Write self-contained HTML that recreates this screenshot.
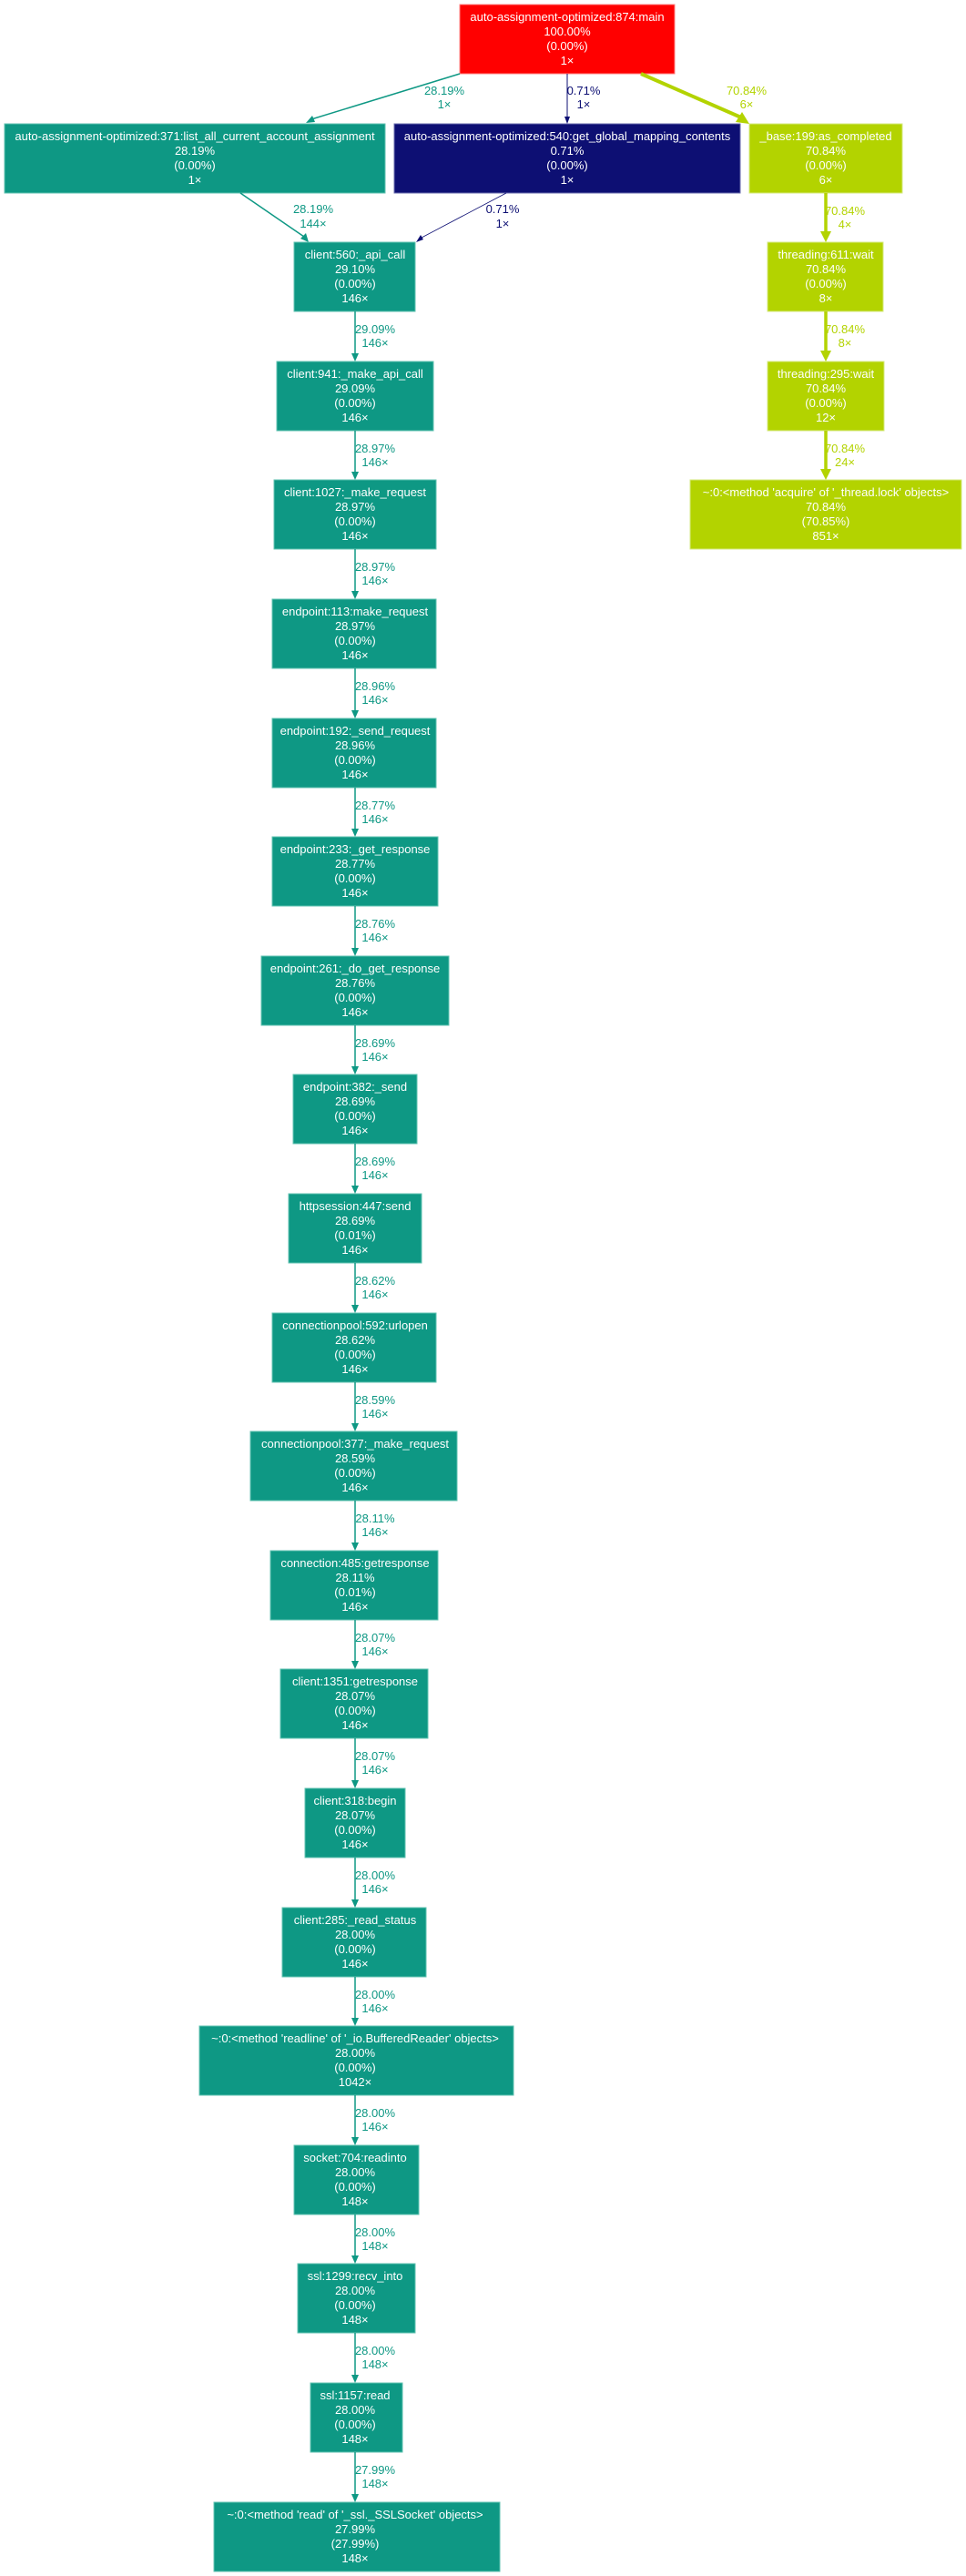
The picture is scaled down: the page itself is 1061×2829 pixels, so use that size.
<!DOCTYPE html>
<html><head><meta charset="utf-8"><style>
html,body{margin:0;padding:0;background:#fff;}
svg{display:block;}
text{font-family:"Liberation Sans",Arial,sans-serif;font-size:13px;text-anchor:middle;}
.n text{fill:#fff;}
.t rect{fill:#0e9884;stroke:#5fc2b0;stroke-width:1;}
.el{fill:#0e9884;}
.ll{fill:#b3d300;}
</style></head><body>
<svg width="1061" height="2829" viewBox="0 0 1061 2829" xmlns="http://www.w3.org/2000/svg">
<!-- top-level -->
<g class="n"><rect x="505" y="5" width="236" height="76" fill="#ff0000" stroke="#ff8080"/>
<text x="623" y="23">auto-assignment-optimized:874:main</text><text x="623" y="39">100.00%</text><text x="623" y="55">(0.00%)</text><text x="623" y="71">1×</text></g>

<g class="n t"><rect x="5" y="136" width="418" height="76"/>
<text x="214" y="154">auto-assignment-optimized:371:list_all_current_account_assignment</text><text x="214" y="170">28.19%</text><text x="214" y="186">(0.00%)</text><text x="214" y="202">1×</text></g>

<g class="n"><rect x="433" y="136" width="380" height="76" fill="#0d0f73" stroke="#6a6cae"/>
<text x="623" y="154">auto-assignment-optimized:540:get_global_mapping_contents</text><text x="623" y="170">0.71%</text><text x="623" y="186">(0.00%)</text><text x="623" y="202">1×</text></g>

<g class="n"><rect x="823" y="136" width="168" height="76" fill="#b3d300" stroke="#d6ea80"/>
<text x="907" y="154">_base:199:as_completed</text><text x="907" y="170">70.84%</text><text x="907" y="186">(0.00%)</text><text x="907" y="202">6×</text></g>

<g class="n"><rect x="843" y="266" width="127" height="76" fill="#b3d300" stroke="#d6ea80"/>
<text x="907" y="284">threading:611:wait</text><text x="907" y="300">70.84%</text><text x="907" y="316">(0.00%)</text><text x="907" y="332">8×</text></g>

<g class="n"><rect x="843" y="397" width="128" height="76" fill="#b3d300" stroke="#d6ea80"/>
<text x="907" y="415">threading:295:wait</text><text x="907" y="431">70.84%</text><text x="907" y="447">(0.00%)</text><text x="907" y="463">12×</text></g>

<g class="n"><rect x="758" y="527" width="298" height="76" fill="#b3d300" stroke="#d6ea80"/>
<text x="907" y="545">~:0:&lt;method 'acquire' of '_thread.lock' objects&gt;</text><text x="907" y="561">70.84%</text><text x="907" y="577">(70.85%)</text><text x="907" y="593">851×</text></g>

<!-- top edges -->
<line x1="505" y1="81" x2="342" y2="131" stroke="#0e9884" stroke-width="1.5"/>
<polygon points="336,135 343,127 346,134" fill="#0e9884"/>
<text class="el" x="488" y="104">28.19%</text><text class="el" x="488" y="119">1×</text>

<line x1="623" y1="81" x2="623" y2="128" stroke="#0d0f73" stroke-width="1"/>
<polygon points="623,136 620,128 626,128" fill="#0d0f73"/>
<text x="641" y="104" fill="#0d0f73">0.71%</text><text x="641" y="119" fill="#0d0f73">1×</text>

<line x1="704" y1="81" x2="814" y2="129" stroke="#b3d300" stroke-width="4"/>
<polygon points="823,136 808,134 815,123" fill="#b3d300"/>
<text class="ll" x="820" y="104">70.84%</text><text class="ll" x="820" y="119">6×</text>

<line x1="264" y1="212" x2="334" y2="260" stroke="#0e9884" stroke-width="1.5"/>
<polygon points="339,266 330,262 336,256" fill="#0e9884"/>
<text class="el" x="344" y="234">28.19%</text><text class="el" x="344" y="250">144×</text>

<line x1="556" y1="212" x2="463" y2="261" stroke="#0d0f73" stroke-width="0.8"/>
<polygon points="457,266 462,258 465,263" fill="#0d0f73"/>
<text x="552" y="234" fill="#0d0f73">0.71%</text><text x="552" y="250" fill="#0d0f73">1×</text>

<!-- lime chain -->
<line x1="907" y1="212" x2="907" y2="256" stroke="#b3d300" stroke-width="3.5"/>
<polygon points="907,266 901,254 913,254" fill="#b3d300"/>
<text class="ll" x="928" y="236">70.84%</text><text class="ll" x="928" y="251">4×</text>
<line x1="907" y1="342" x2="907" y2="387" stroke="#b3d300" stroke-width="3.5"/>
<polygon points="907,397 901,385 913,385" fill="#b3d300"/>
<text class="ll" x="928" y="366">70.84%</text><text class="ll" x="928" y="381">8×</text>
<line x1="907" y1="473" x2="907" y2="517" stroke="#b3d300" stroke-width="3.5"/>
<polygon points="907,527 901,515 913,515" fill="#b3d300"/>
<text class="ll" x="928" y="497">70.84%</text><text class="ll" x="928" y="512">24×</text>

<!-- central chain nodes -->
<g class="n t"><rect x="323" y="266" width="133" height="76"/><text x="390" y="284">client:560:_api_call</text><text x="390" y="300">29.10%</text><text x="390" y="316">(0.00%)</text><text x="390" y="332">146×</text></g>
<g class="n t"><rect x="304" y="397" width="172" height="76"/><text x="390" y="415">client:941:_make_api_call</text><text x="390" y="431">29.09%</text><text x="390" y="447">(0.00%)</text><text x="390" y="463">146×</text></g>
<g class="n t"><rect x="301" y="527" width="178" height="76"/><text x="390" y="545">client:1027:_make_request</text><text x="390" y="561">28.97%</text><text x="390" y="577">(0.00%)</text><text x="390" y="593">146×</text></g>
<g class="n t"><rect x="299" y="658" width="180" height="76"/><text x="390" y="676">endpoint:113:make_request</text><text x="390" y="692">28.97%</text><text x="390" y="708">(0.00%)</text><text x="390" y="724">146×</text></g>
<g class="n t"><rect x="299" y="789" width="180" height="76"/><text x="390" y="807">endpoint:192:_send_request</text><text x="390" y="823">28.96%</text><text x="390" y="839">(0.00%)</text><text x="390" y="855">146×</text></g>
<g class="n t"><rect x="299" y="919" width="182" height="76"/><text x="390" y="937">endpoint:233:_get_response</text><text x="390" y="953">28.77%</text><text x="390" y="969">(0.00%)</text><text x="390" y="985">146×</text></g>
<g class="n t"><rect x="287" y="1050" width="206" height="76"/><text x="390" y="1068">endpoint:261:_do_get_response</text><text x="390" y="1084">28.76%</text><text x="390" y="1100">(0.00%)</text><text x="390" y="1116">146×</text></g>
<g class="n t"><rect x="322" y="1180" width="136" height="76"/><text x="390" y="1198">endpoint:382:_send</text><text x="390" y="1214">28.69%</text><text x="390" y="1230">(0.00%)</text><text x="390" y="1246">146×</text></g>
<g class="n t"><rect x="317" y="1311" width="146" height="76"/><text x="390" y="1329">httpsession:447:send</text><text x="390" y="1345">28.69%</text><text x="390" y="1361">(0.01%)</text><text x="390" y="1377">146×</text></g>
<g class="n t"><rect x="299" y="1442" width="180" height="76"/><text x="390" y="1460">connectionpool:592:urlopen</text><text x="390" y="1476">28.62%</text><text x="390" y="1492">(0.00%)</text><text x="390" y="1508">146×</text></g>
<g class="n t"><rect x="275" y="1572" width="227" height="76"/><text x="390" y="1590">connectionpool:377:_make_request</text><text x="390" y="1606">28.59%</text><text x="390" y="1622">(0.00%)</text><text x="390" y="1638">146×</text></g>
<g class="n t"><rect x="297" y="1703" width="184" height="76"/><text x="390" y="1721">connection:485:getresponse</text><text x="390" y="1737">28.11%</text><text x="390" y="1753">(0.01%)</text><text x="390" y="1769">146×</text></g>
<g class="n t"><rect x="308" y="1833" width="162" height="76"/><text x="390" y="1851">client:1351:getresponse</text><text x="390" y="1867">28.07%</text><text x="390" y="1883">(0.00%)</text><text x="390" y="1899">146×</text></g>
<g class="n t"><rect x="335" y="1964" width="110" height="76"/><text x="390" y="1982">client:318:begin</text><text x="390" y="1998">28.07%</text><text x="390" y="2014">(0.00%)</text><text x="390" y="2030">146×</text></g>
<g class="n t"><rect x="310" y="2095" width="158" height="76"/><text x="390" y="2113">client:285:_read_status</text><text x="390" y="2129">28.00%</text><text x="390" y="2145">(0.00%)</text><text x="390" y="2161">146×</text></g>
<g class="n t"><rect x="219" y="2225" width="345" height="76"/><text x="390" y="2243">~:0:&lt;method 'readline' of '_io.BufferedReader' objects&gt;</text><text x="390" y="2259">28.00%</text><text x="390" y="2275">(0.00%)</text><text x="390" y="2291">1042×</text></g>
<g class="n t"><rect x="323" y="2356" width="137" height="76"/><text x="390" y="2374">socket:704:readinto</text><text x="390" y="2390">28.00%</text><text x="390" y="2406">(0.00%)</text><text x="390" y="2422">148×</text></g>
<g class="n t"><rect x="327" y="2486" width="129" height="76"/><text x="390" y="2504">ssl:1299:recv_into</text><text x="390" y="2520">28.00%</text><text x="390" y="2536">(0.00%)</text><text x="390" y="2552">148×</text></g>
<g class="n t"><rect x="341" y="2617" width="101" height="76"/><text x="390" y="2635">ssl:1157:read</text><text x="390" y="2651">28.00%</text><text x="390" y="2667">(0.00%)</text><text x="390" y="2683">148×</text></g>
<g class="n t"><rect x="235" y="2748" width="314" height="76"/><text x="390" y="2766">~:0:&lt;method 'read' of '_ssl._SSLSocket' objects&gt;</text><text x="390" y="2782">27.99%</text><text x="390" y="2798">(27.99%)</text><text x="390" y="2814">148×</text></g>

<!-- central chain edges -->
<g stroke="#0e9884" stroke-width="1.5">
<line x1="390" y1="342" x2="390" y2="390"/><line x1="390" y1="473" x2="390" y2="520"/><line x1="390" y1="603" x2="390" y2="651"/><line x1="390" y1="734" x2="390" y2="782"/><line x1="390" y1="865" x2="390" y2="912"/><line x1="390" y1="995" x2="390" y2="1043"/><line x1="390" y1="1126" x2="390" y2="1173"/><line x1="390" y1="1256" x2="390" y2="1304"/><line x1="390" y1="1387" x2="390" y2="1435"/><line x1="390" y1="1518" x2="390" y2="1565"/><line x1="390" y1="1648" x2="390" y2="1696"/><line x1="390" y1="1779" x2="390" y2="1826"/><line x1="390" y1="1909" x2="390" y2="1957"/><line x1="390" y1="2040" x2="390" y2="2088"/><line x1="390" y1="2171" x2="390" y2="2218"/><line x1="390" y1="2301" x2="390" y2="2349"/><line x1="390" y1="2432" x2="390" y2="2479"/><line x1="390" y1="2562" x2="390" y2="2610"/><line x1="390" y1="2693" x2="390" y2="2741"/>
</g>
<g fill="#0e9884">
<polygon points="390,397 386,388 394,388"/><polygon points="390,527 386,518 394,518"/><polygon points="390,658 386,649 394,649"/><polygon points="390,789 386,780 394,780"/><polygon points="390,919 386,910 394,910"/><polygon points="390,1050 386,1041 394,1041"/><polygon points="390,1180 386,1171 394,1171"/><polygon points="390,1311 386,1302 394,1302"/><polygon points="390,1442 386,1433 394,1433"/><polygon points="390,1572 386,1563 394,1563"/><polygon points="390,1703 386,1694 394,1694"/><polygon points="390,1833 386,1824 394,1824"/><polygon points="390,1964 386,1955 394,1955"/><polygon points="390,2095 386,2086 394,2086"/><polygon points="390,2225 386,2216 394,2216"/><polygon points="390,2356 386,2347 394,2347"/><polygon points="390,2486 386,2477 394,2477"/><polygon points="390,2617 386,2608 394,2608"/><polygon points="390,2748 386,2739 394,2739"/>
</g>
<g class="el">
<text x="412" y="366">29.09%</text><text x="412" y="381">146×</text>
<text x="412" y="497">28.97%</text><text x="412" y="512">146×</text>
<text x="412" y="627">28.97%</text><text x="412" y="642">146×</text>
<text x="412" y="758">28.96%</text><text x="412" y="773">146×</text>
<text x="412" y="889">28.77%</text><text x="412" y="904">146×</text>
<text x="412" y="1019">28.76%</text><text x="412" y="1034">146×</text>
<text x="412" y="1150">28.69%</text><text x="412" y="1165">146×</text>
<text x="412" y="1280">28.69%</text><text x="412" y="1295">146×</text>
<text x="412" y="1411">28.62%</text><text x="412" y="1426">146×</text>
<text x="412" y="1542">28.59%</text><text x="412" y="1557">146×</text>
<text x="412" y="1672">28.11%</text><text x="412" y="1687">146×</text>
<text x="412" y="1803">28.07%</text><text x="412" y="1818">146×</text>
<text x="412" y="1933">28.07%</text><text x="412" y="1948">146×</text>
<text x="412" y="2064">28.00%</text><text x="412" y="2079">146×</text>
<text x="412" y="2195">28.00%</text><text x="412" y="2210">146×</text>
<text x="412" y="2325">28.00%</text><text x="412" y="2340">146×</text>
<text x="412" y="2456">28.00%</text><text x="412" y="2471">148×</text>
<text x="412" y="2586">28.00%</text><text x="412" y="2601">148×</text>
<text x="412" y="2717">27.99%</text><text x="412" y="2732">148×</text>
</g>
</svg>
</body></html>
